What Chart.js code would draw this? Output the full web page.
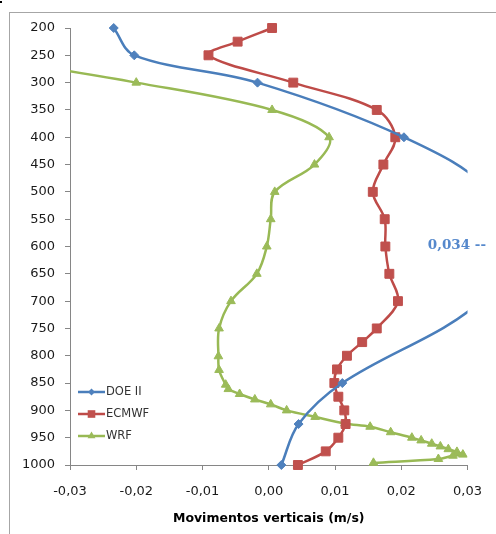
<!DOCTYPE html>
<html><head><meta charset="utf-8">
<script src="https://cdn.jsdelivr.net/npm/chart.js@4.4.1/dist/chart.umd.min.js"></script>
<style>
html,body{margin:0;padding:0;background:#fff;}
#wrap{position:relative;width:496px;height:534px;overflow:hidden;background:#fff;}
#frame{position:absolute;left:9px;top:12px;width:700px;height:700px;border-left:1px solid #a6a6a6;border-top:1px solid #a6a6a6;}
#dot{position:absolute;left:0;top:1px;width:2px;height:2px;background:#000;}
canvas{position:absolute;left:0;top:0;}
</style></head><body>
<div id="wrap"><div id="frame"></div><div id="dot"></div><canvas id="c" width="496" height="534"></canvas></div>
<script>
// ---- data ----
const seriesNames = ['DOE II', 'ECMWF', 'WRF'];

const doePressure = [200, 250, 300, 400, 500, 600, 700, 850, 925, 1000];
const doeValues   = [-0.0234, -0.0203, -0.0017, 0.0204, 0.0333, 0.034, 0.032, 0.0111, 0.0045, 0.0019];

const ecmwfPressure = [200, 225, 250, 300, 350, 400, 450, 500, 550, 600, 650, 700, 750, 775, 800, 825, 850, 875, 900, 925, 950, 975, 1000];
const ecmwfValues   = [0.0005, -0.0047, -0.0091, 0.0037, 0.0163, 0.0191, 0.0173, 0.0157, 0.0175, 0.0176, 0.0182, 0.0195, 0.0163, 0.0141, 0.0118, 0.0103, 0.0099, 0.0105, 0.0114, 0.0116, 0.0105, 0.0086, 0.0044];

const wrfPressure = [250, 300, 350, 400, 450, 500, 550, 600, 650, 700, 750, 801, 826, 853, 861, 870, 880, 889, 900, 912, 924, 930, 940, 950, 955, 961, 966, 971, 976, 981, 983, 989, 996];
const wrfValues   = [-0.045, -0.020, 0.0005, 0.0091, 0.0069, 0.0009, 0.0003, -0.0003, -0.0018, -0.0057, -0.0075, -0.0076, -0.0075, -0.0065, -0.0061, -0.0044, -0.0021, 0.0003, 0.0027, 0.0070, 0.0115, 0.0153, 0.0184, 0.0216, 0.0230, 0.0246, 0.0259, 0.0271, 0.0284, 0.0293, 0.0278, 0.0256, 0.0158];

const xTickValues = [-0.03, -0.02, -0.01, 0.00, 0.01, 0.02, 0.03];
const yTickValues = [200, 250, 300, 350, 400, 450, 500, 550, 600, 650, 700, 750, 800, 850, 900, 950, 1000];
const xAxisTitle = 'Movimentos verticais (m/s)';

// ---- styles ----
const lineColors   = ['#4A7EBB', '#BE4B48', '#98B954'];
const markerColors = ['#4F81BD', '#C0504D', '#9BBB59'];
const markerStyles = ['rectRot', 'rect', 'triangle'];
const markerRadii  = [4.5, 6.3, 5];

function pts(ps, vs) { return ps.map((p, i) => ({x: vs[i], y: p})); }
const fmt = v => (Math.abs(v) < 1e-9 ? 0 : v).toFixed(2).replace('.', ',');

const allData = [pts(doePressure, doeValues), pts(ecmwfPressure, ecmwfValues), pts(wrfPressure, wrfValues)];

const datasets = allData.map((d, i) => ({
  label: seriesNames[i],
  data: d,
  showLine: true,
  borderColor: lineColors[i],
  borderWidth: 2.5,
  tension: 0.35,
  pointStyle: markerStyles[i],
  pointRadius: markerRadii[i],
  pointHoverRadius: markerRadii[i],
  pointBackgroundColor: markerColors[i],
  pointBorderColor: markerColors[i],
  pointBorderWidth: 1,
  clip: {left: 0, right: 0, top: 10, bottom: 10}
}));

const legendPlugin = {
  id: 'inlineLegend',
  afterDraw(chart) {
    const ctx = chart.ctx;
    const ca = chart.chartArea;
    const x0 = ca.left + 8, x1 = ca.left + 35, xm = (x0 + x1) / 2;
    const rowY = [ca.top + 364, ca.top + 386, ca.top + 408];
    ctx.save();
    seriesNames.forEach((name, i) => {
      const y = rowY[i];
      ctx.strokeStyle = lineColors[i];
      ctx.lineWidth = 2.5;
      ctx.beginPath(); ctx.moveTo(x0, y); ctx.lineTo(x1, y); ctx.stroke();
      ctx.fillStyle = markerColors[i];
      ctx.beginPath();
      if (markerStyles[i] === 'rectRot') {
        const r = 3.5;
        ctx.moveTo(xm, y - r); ctx.lineTo(xm + r, y); ctx.lineTo(xm, y + r); ctx.lineTo(xm - r, y);
      } else if (markerStyles[i] === 'rect') {
        ctx.rect(xm - 3.8, y - 3.8, 7.6, 7.6);
      } else {
        const r = 4.6;
        ctx.moveTo(xm, y - r); ctx.lineTo(xm + r * 0.866, y + r / 2); ctx.lineTo(xm - r * 0.866, y + r / 2);
      }
      ctx.closePath(); ctx.fill();
      ctx.fillStyle = '#333';
      ctx.font = '11.5px "DejaVu Sans"';
      ctx.textAlign = 'left';
      ctx.textBaseline = 'middle';
      ctx.fillText(name, x1 + 1, y + 0.5);
    });
    ctx.restore();
  }
};

const labelPlugin = {
  id: 'maxLabel',
  afterDatasetsDraw(chart) {
    const xs = chart.scales.x, ys = chart.scales.y;
    const vmax = Math.max(...doeValues);
    const idx = doeValues.indexOf(vmax);
    const px = xs.getPixelForValue(vmax);
    const py = ys.getPixelForValue(doePressure[idx]);
    const ctx = chart.ctx;
    ctx.save();
    ctx.font = 'bold 13.5px "DejaVu Serif"';
    ctx.fillStyle = '#5588CC';
    ctx.textAlign = 'right';
    ctx.textBaseline = 'middle';
    ctx.fillText(vmax.toFixed(3).replace('.', ',') + ' --', px - 8, py - 1);
    ctx.restore();
  }
};

new Chart(document.getElementById('c'), {
  type: 'scatter',
  data: {datasets},
  plugins: [legendPlugin, labelPlugin],
  options: {
    responsive: false,
    devicePixelRatio: 1,
    animation: false,
    events: [],
    layout: {padding: {left: 0, top: 28, right: 18, bottom: 0}},
    elements: {line: {capBezierPoints: false}},
    plugins: {legend: {display: false}, tooltip: {enabled: false}},
    scales: {
      x: {
        type: 'linear',
        min: -0.03, max: 0.03,
        afterBuildTicks: s => { s.ticks = xTickValues.map(v => ({value: v})); },
        afterFit: s => { s.height = 69; },
        ticks: {
          callback: v => fmt(v),
          font: {family: 'DejaVu Sans', size: 13},
          color: '#1a1a1a',
          padding: 14,
          maxRotation: 0, autoSkip: false
        },
        grid: {drawOnChartArea: false, drawTicks: true, tickLength: 5, color: '#868686'},
        border: {color: '#868686', width: 1},
        title: {
          display: true, text: xAxisTitle,
          font: {family: 'DejaVu Sans', size: 12.5, weight: 'bold'},
          color: '#000',
          padding: {top: 4, bottom: 8}
        }
      },
      y: {
        type: 'linear',
        reverse: true,
        min: 200, max: 1000,
        afterBuildTicks: s => { s.ticks = yTickValues.map(v => ({value: v})); },
        afterFit: s => { s.width = 70; },
        ticks: {
          callback: v => String(v),
          font: {family: 'DejaVu Sans', size: 13},
          color: '#1a1a1a',
          padding: 10,
          autoSkip: false
        },
        grid: {drawOnChartArea: false, drawTicks: true, tickLength: 5, color: '#868686'},
        border: {color: '#868686', width: 1}
      }
    }
  }
});
</script>
</body></html>
